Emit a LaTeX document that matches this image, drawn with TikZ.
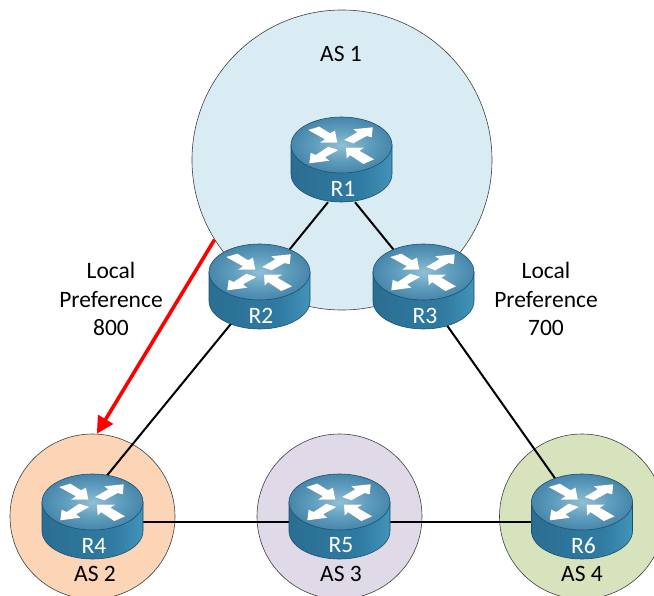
\documentclass[tikz,border=0pt]{standalone}
\usepackage{fontspec}
\setmainfont{Carlito}
\usetikzlibrary{arrows.meta}

\definecolor{asblue}{HTML}{DAECF3}
\definecolor{asorange}{HTML}{FBD5B5}
\definecolor{aspurple}{HTML}{E0D9E8}
\definecolor{asgreen}{HTML}{D7E3BC}
\definecolor{routerline}{HTML}{1C5070}
\definecolor{sideA}{HTML}{245F80}
\definecolor{sideB}{HTML}{2B6E92}
\definecolor{sideC}{HTML}{2F7BA2}
\definecolor{sideD}{HTML}{4A9BC0}
\definecolor{sideE}{HTML}{2A6A8E}
\definecolor{topA}{HTML}{8FC0D6}
\definecolor{topB}{HTML}{5F9DBD}
\definecolor{topC}{HTML}{2F7098}

\pgfdeclarehorizontalshading{routerside}{100bp}{
  color(0bp)=(sideA);
  color(25bp)=(sideB);
  color(60bp)=(sideC);
  color(80bp)=(sideD);
  color(92bp)=(sideD);
  color(100bp)=(sideE)}
\pgfdeclareradialshading{routertop}{\pgfpoint{0bp}{0bp}}{
  color(0bp)=(topA);
  color(14bp)=(topB);
  color(36bp)=(topC);
  color(50bp)=(topC)}

\tikzset{
  ascircle/.style={circle, draw=black!75, line width=0.6pt, minimum size=#1, inner sep=0pt},
  routerbox/.style={rectangle, minimum width=101pt, minimum height=85pt, inner sep=0pt},
  link/.style={draw=black, line width=2pt},
  astext/.style={font=\fontsize{23.5}{28.5}\selectfont, align=center, text=black, inner sep=0pt},
  routertext/.style={font=\fontsize{23.5}{24}\selectfont, text=white, inner sep=0pt}
}

\newcommand{\routerarrows}{
  -- (-22.2,-32.8) -- (-11.5,-26.2) -- (-6.5,-28.8) -- (-4.2,-16.8) -- (-21.5,-16.8) -- (-16.5,-20.2) -- cycle
  (2.5,-19.5) -- (15.8,-27.2) -- (11.8,-30.2) -- (31.2,-32.2) -- (30.2,-22.2) -- (25.2,-23.5) -- (11.8,-16.2) -- cycle
  (-32.2,3.8) -- (-30.8,-6.8) -- (-25.8,-4.5) -- (-13.2,-12.8) -- (-3.2,-9.5) -- (-16.5,-2.2) -- (-12.2,1.2) -- cycle
  (4.5,-11.8) -- (22.5,-11.8) -- (17.8,-8.8) -- (32.5,-0.2) -- (21.8,4.5) -- (8.5,-4.5) -- (5.2,-1.2) -- cycle}

\newcommand{\router}[3]{
  \begin{scope}[shift={(#2,#3)}]
    \draw[routerline, line width=0.6pt, shading=routerside]
      (-50.5,-14.5) -- (-50.5,14.5) arc[start angle=180, end angle=360, x radius=50.5, y radius=-28]
      -- (50.5,-14.5) -- cycle;
    \draw[routerline, line width=0.6pt, shading=routertop]
      (0,-14.5) ellipse[x radius=50.5, y radius=28];
    \fill[black!45] (-33.2,-28.7) \routerarrows;
    \fill[white] (-33.2,-29.5) \routerarrows;
    \node[routertext] (#1label) at (1.5,29) {#1};
  \end{scope}
}

\begin{document}
\begin{tikzpicture}[x=1pt, y=-1pt]

\useasboundingbox (0,0) rectangle (654,596);
\clip (0,0) rectangle (654,596);

\node[ascircle=300pt, fill=asblue] (as1) at (342,160) {};
\node[ascircle=165pt, fill=asorange] (as2) at (92.5,516.5) {};
\node[ascircle=165pt, fill=aspurple] (as3) at (339.5,516.5) {};
\node[ascircle=165pt, fill=asgreen] (as4) at (582,516.5) {};

\foreach \name/\x/\y in {R1/341.5/159.5, R2/259.5/286.5, R3/423.5/286.5, R4/92.5/516.5, R5/339.5/516.5, R6/582/516.5}
  \node[routerbox] (\name) at (\x,\y) {};

\draw[link] ([xshift=-13.5pt]R1.south) -- (R2.center);
\draw[link] ([xshift=13.5pt]R1.south) -- (R3.center);
\draw[link] ([xshift=2pt]R2.center) -- ([xshift=-19pt]R4.center);
\draw[link] ([xshift=-4pt]R3.center) -- (R6.center);
\draw[link] ([yshift=-5pt]R4.center) -- ([yshift=-5pt]R5.center);
\draw[link] ([yshift=-5pt]R5.center) -- ([yshift=-5pt]R6.center);

\foreach \name/\x/\y in {R1/341.5/159.5, R2/259.5/286.5, R3/423.5/286.5, R4/92.5/516.5, R5/339.5/516.5, R6/582/516.5}
  \router{\name}{\x}{\y};

\draw[red, line width=3.6pt, -{Triangle[length=17pt, width=17pt]}] (as1.212) -- (as2.87);

\node[astext] (as1text) at (341,54) {AS 1};
\node[astext] (as2text) at (95,574) {AS 2};
\node[astext] (as3text) at (341,574) {AS 3};
\node[astext] (as4text) at (582,574) {AS 4};

\node[astext] (pref800) at (111,299) {Local\\Preference\\800};
\node[astext] (pref700) at (546,299) {Local\\Preference\\700};

\end{tikzpicture}
\end{document}
